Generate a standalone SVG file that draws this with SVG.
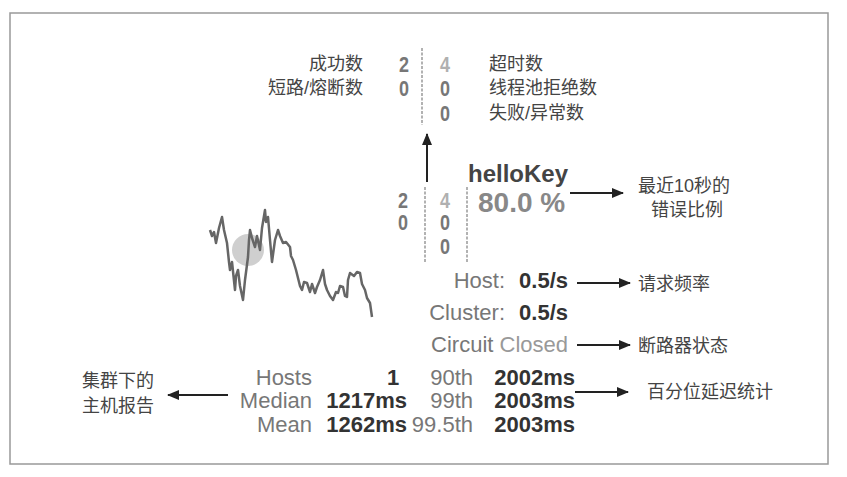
<svg xmlns="http://www.w3.org/2000/svg" width="847" height="477" viewBox="0 0 847 477">
<style>
.cn{font-family:"Liberation Sans","Noto Sans CJK SC",sans-serif;font-size:18px;fill:#444}
.en{font-family:"Liberation Sans",Arial,sans-serif}
.num{font-size:18px;font-weight:bold;fill:#777}
.lt{fill:#b0b0b0}
.lbl{font-size:22px;fill:#777}
.val{font-size:22px;font-weight:bold;fill:#333}
.sep{stroke:#999;stroke-width:1.5;stroke-dasharray:3 1.5}
.arr{stroke:#222;stroke-width:2;fill:none;marker-end:url(#ah)}
</style>
<defs>
<marker id="ah" viewBox="0 0 12 10" refX="11" refY="5" markerWidth="12" markerHeight="10" markerUnits="userSpaceOnUse" orient="auto">
<path d="M0,0 L12,5 L0,10 z" fill="#222"/>
</marker>
</defs>
<rect x="0" y="0" width="847" height="477" fill="#fff"/>
<rect x="10" y="13" width="818" height="451" fill="none" stroke="#999" stroke-width="1.5"/>

<g id="legend-top">
<text class="cn" x="363" y="70" text-anchor="end">成功数</text>
<text class="cn" x="363" y="94" text-anchor="end">短路/熔断数</text>
<text class="en num" transform="translate(404 72) scale(1 1.2)" text-anchor="middle">2</text>
<text class="en num" transform="translate(404 96) scale(1 1.2)" text-anchor="middle">0</text>
<line class="sep" x1="422" y1="48" x2="422" y2="125"/>
<text class="en num lt" transform="translate(445 72) scale(1 1.2)" text-anchor="middle">4</text>
<text class="en num" transform="translate(445 96) scale(1 1.2)" text-anchor="middle">0</text>
<text class="en num" transform="translate(445 121) scale(1 1.2)" text-anchor="middle">0</text>
<text class="cn" x="489" y="70">超时数</text>
<text class="cn" x="489" y="94">线程池拒绝数</text>
<text class="cn" x="489" y="119">失败/异常数</text>
</g>

<g id="sparkline">
<circle cx="248" cy="250" r="16" fill="#bbb" opacity="0.7"/>
<polyline fill="none" stroke="#666" stroke-width="2.5" stroke-linejoin="round" points="210,230 212,236 214,232 216,243 219,228 222,217 224,230 227,243 229,262 230,270 232,262 235,290 236,276 238,270 240,286 243,300 245,280 248,257 249,240 250,230 252,238 255,247 257,236 260,250 262,228 265,210 266,222 268,217 270,240 272,262 275,240 278,230 280,236 283,243 286,242 290,247 291,256 293,260 296,270 300,286 302,290 304,282 307,283 310,292 312,284 315,293 317,287 320,280 323,270 325,284 327,290 330,296 333,300 336,292 338,293 340,286 343,287 345,296 347,297 348,280 350,273 354,276 357,272 360,273 362,284 365,290 367,298 370,303 371,310 372,317"/>
</g>

<g id="circuit">
<text class="en" x="468" y="182" font-size="24" font-weight="bold" fill="#444">helloKey</text>
<text class="en num" transform="translate(403 208) scale(1 1.2)" text-anchor="middle">2</text>
<text class="en num" transform="translate(403 230) scale(1 1.2)" text-anchor="middle">0</text>
<line class="sep" x1="425" y1="187" x2="425" y2="262"/>
<text class="en num lt" transform="translate(445 208) scale(1 1.2)" text-anchor="middle">4</text>
<text class="en num" transform="translate(445 230) scale(1 1.2)" text-anchor="middle">0</text>
<text class="en num" transform="translate(445 254) scale(1 1.2)" text-anchor="middle">0</text>
<line class="sep" x1="467" y1="187" x2="467" y2="262"/>
<text class="en" x="478" y="212" font-size="28" font-weight="bold" fill="#888">80.0 %</text>
<text class="en lbl" x="505" y="288" text-anchor="end">Host:</text>
<text class="en val" x="568" y="288" text-anchor="end" font-size="27">0.5/s</text>
<text class="en lbl" x="505" y="320" text-anchor="end">Cluster:</text>
<text class="en val" x="568" y="320" text-anchor="end" font-size="27">0.5/s</text>
<text class="en lbl" x="568" y="352" text-anchor="end" fill="#666">Circuit <tspan fill="#999">Closed</tspan></text>
</g>

<g id="hosts">
<text class="en lbl" x="312" y="385" text-anchor="end" fill="#666">Hosts</text>
<text class="en lbl" x="312" y="408" text-anchor="end" fill="#666">Median</text>
<text class="en lbl" x="312" y="432" text-anchor="end" fill="#666">Mean</text>
<text class="en val" x="393" y="385" text-anchor="middle">1</text>
<text class="en val" x="407" y="408" text-anchor="end">1217ms</text>
<text class="en val" x="407" y="432" text-anchor="end">1262ms</text>
<text class="en lbl" x="473" y="385" text-anchor="end" fill="#666">90th</text>
<text class="en lbl" x="473" y="408" text-anchor="end" fill="#666">99th</text>
<text class="en lbl" x="473" y="432" text-anchor="end" fill="#666">99.5th</text>
<text class="en val" x="575" y="385" text-anchor="end">2002ms</text>
<text class="en val" x="575" y="408" text-anchor="end">2003ms</text>
<text class="en val" x="575" y="432" text-anchor="end">2003ms</text>
</g>

<g id="notes">
<text class="cn" x="684" y="192" text-anchor="middle">最近10秒的</text>
<text class="cn" x="687" y="216" text-anchor="middle">错误比例</text>
<text class="cn" x="638" y="290">请求频率</text>
<text class="cn" x="638" y="352">断路器状态</text>
<text class="cn" x="647" y="398">百分位延迟统计</text>
<text class="cn" x="82" y="387">集群下的</text>
<text class="cn" x="82" y="412">主机报告</text>
</g>

<g id="connectors">
<line class="arr" x1="427" y1="182" x2="427" y2="134"/>
<line class="arr" x1="570" y1="193" x2="623" y2="193"/>
<line class="arr" x1="577" y1="283" x2="630" y2="283"/>
<line class="arr" x1="577" y1="345" x2="630" y2="345"/>
<line class="arr" x1="575" y1="392" x2="628" y2="392"/>
<line class="arr" x1="228" y1="395" x2="168" y2="395"/>
</g>
</svg>
